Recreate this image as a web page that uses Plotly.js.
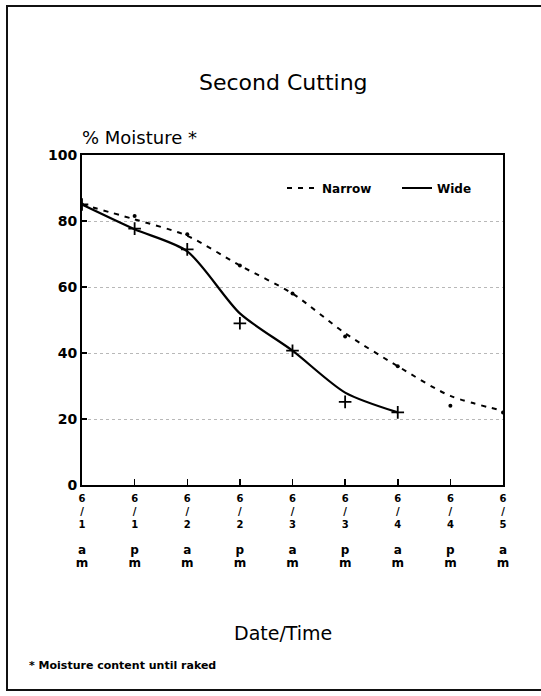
<!DOCTYPE html>
<html>
<head>
<meta charset="utf-8">
<script src="https://cdn.plot.ly/plotly-3.0.1.min.js"></script>
<style>html,body{margin:0;padding:0;background:#fff;}#chart{width:541px;height:696px;}</style>
</head>
<body>
<div id="chart"></div>
<script>
// Categories (date / time of reading)
const categories = ["6/1 am","6/1 pm","6/2 am","6/2 pm","6/3 am","6/3 pm","6/4 am","6/4 pm","6/5 am"];
const tickMonth = ["6","6","6","6","6","6","6","6","6"];
const tickDay   = ["1","1","2","2","3","3","4","4","5"];
const tickAmPm  = ["a","p","a","p","a","p","a","p","a"];

// Narrow windrow: measured points and smoothed curve
const narrowPoints = [85, 81.5, 76, 66.5, 58, 45, 36, 24, 22];
const narrowCurve  = [85, 80.5, 75.5, 66.5, 58, 46, 36, 27, 22.5];
// Wide windrow: measured points and smoothed curve
const widePoints = [85, 77.7, 71.4, 49, 40.7, 25.2, 22];
const wideCurve  = [85, 77.5, 70.8, 52, 40.7, 28, 22];

const yTicks = [0, 20, 40, 60, 80, 100];

const FONT = "DejaVu Sans";
const plotLeft = 82, plotRight = 503, plotTop = 155, plotBottom = 485;
const W = 541, H = 696;
const ph = plotBottom - plotTop, pw = plotRight - plotLeft;
const py = v => (plotBottom - v) / ph;      // pixel y -> paper y
const px = v => (v - plotLeft) / pw;        // pixel x -> paper x

const traces = [
  {x: categories, y: narrowCurve, name: "Narrow", mode: "lines",
   line: {color: "#000", width: 2, dash: "5px,6px", shape: "spline", smoothing: 0.8}},
  {x: categories.slice(0, wideCurve.length), y: wideCurve, name: "Wide", mode: "lines",
   line: {color: "#000", width: 2.2, shape: "spline", smoothing: 0.75}},
  {x: categories, y: narrowPoints, mode: "markers", showlegend: false,
   marker: {symbol: "circle", size: 4, color: "#000"}},
  {x: categories.slice(0, widePoints.length), y: widePoints, mode: "markers", showlegend: false,
   marker: {symbol: "cross-thin", size: 9, line: {color: "#000", width: 1.8}}}
];

const big = t => '<span style="font-size:12px">' + t + '</span>';
const tickText = categories.map((c, i) =>
  "<b>" + tickMonth[i] + "<br>/<br>" + tickDay[i] + "<br> <br>" + big(tickAmPm[i]) + "<br>" + big("m") + "</b>");

const annotations = [];
annotations.push({x: px(283), xref: "paper", y: py(82), yref: "paper", text: "Second Cutting",
  showarrow: false, xanchor: "center", yanchor: "middle", font: {family: FONT, size: 22, color: "#000"}});
annotations.push({x: px(80), xref: "paper", y: py(137), yref: "paper", text: "% Moisture *",
  showarrow: false, xanchor: "left", yanchor: "middle", font: {family: FONT, size: 18, color: "#000"}});
annotations.push({x: px(283), xref: "paper", y: py(633), yref: "paper", text: "Date/Time",
  showarrow: false, xanchor: "center", yanchor: "middle", font: {family: FONT, size: 19, color: "#000"}});
annotations.push({x: px(27), xref: "paper", y: py(665), yref: "paper", text: "<b>* Moisture content until raked</b>",
  showarrow: false, xanchor: "left", yanchor: "middle", font: {family: FONT, size: 11, color: "#000"}});

const layout = {
  width: W, height: H,
  margin: {l: plotLeft, r: W - plotRight, t: plotTop, b: H - plotBottom, pad: 0},
  paper_bgcolor: "#fff", plot_bgcolor: "#fff",
  showlegend: true,
  legend: {orientation: "h", x: px(282), y: py(188), xanchor: "left", yanchor: "middle",
    font: {family: FONT, size: 12, color: "#000", weight: "bold"}, bgcolor: "rgba(0,0,0,0)",
    entrywidth: 70, entrywidthmode: "pixels", tracegroupgap: 0},
  xaxis: {type: "category", categoryarray: categories, range: [0, 8],
    showgrid: false, zeroline: false, showline: true, linecolor: "#000", linewidth: 2, mirror: true,
    ticks: "inside", ticklen: 6, tickwidth: 1.5, tickcolor: "#000",
    tickvals: categories, ticktext: tickText, tickangle: 0, ticklabelstandoff: 3,
    tickfont: {family: FONT, size: 10, color: "#000"}},
  yaxis: {range: [0, 100], tickvals: yTicks, ticktext: yTicks.map(v => "<b>" + v + "</b>"),
    showgrid: true, gridcolor: "#b8b8b8", griddash: "dot", gridwidth: 1,
    zeroline: false, showline: true, linecolor: "#000", linewidth: 2, mirror: true,
    ticks: "inside", ticklen: 5, tickwidth: 1.5, tickcolor: "#000",
    tickfont: {family: FONT, size: 14, color: "#000"}},
  annotations: annotations,
  shapes: [{type: "rect", xref: "paper", yref: "paper",
    x0: px(7), x1: px(548), y0: py(690), y1: py(6),
    line: {color: "#111", width: 2}, fillcolor: "rgba(0,0,0,0)"}]
};

Plotly.newPlot("chart", traces, layout, {displayModeBar: false, staticPlot: true});
</script>
</body>
</html>
